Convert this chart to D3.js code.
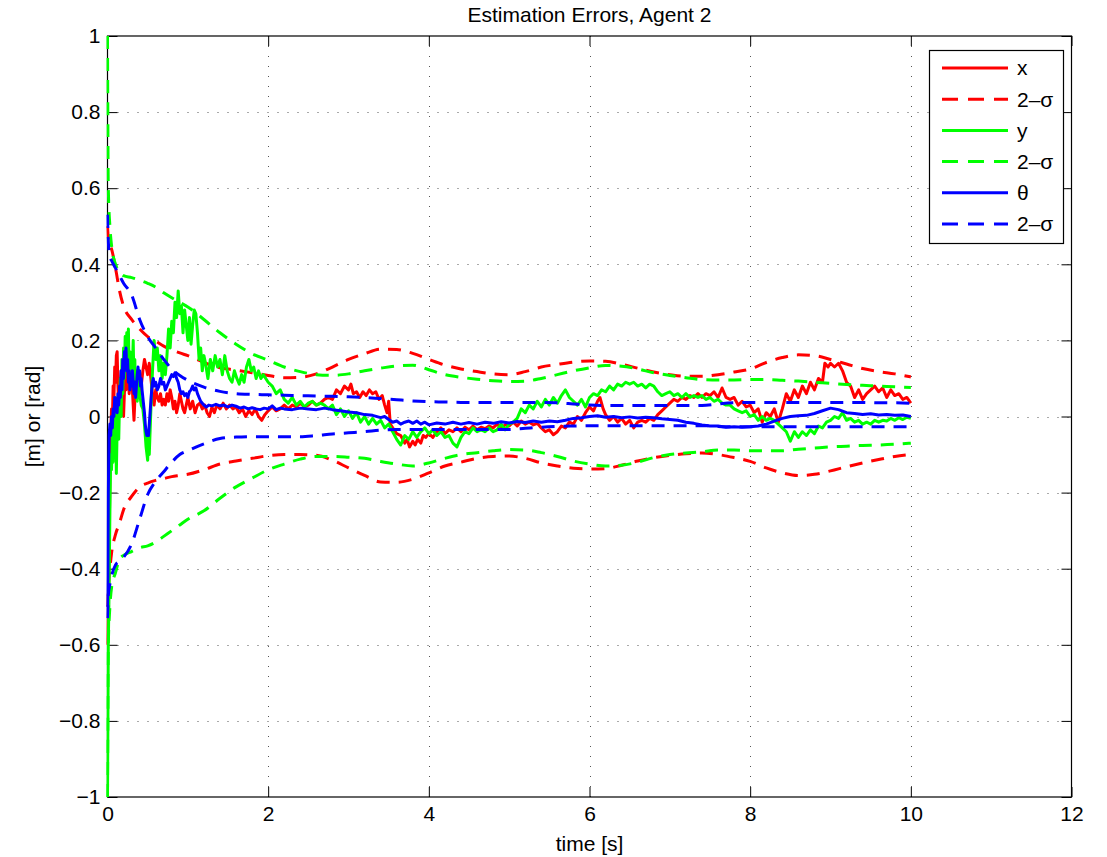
<!DOCTYPE html>
<html>
<head>
<meta charset="utf-8">
<script src="https://cdn.jsdelivr.net/npm/d3@7/dist/d3.min.js"></script>
<style>
  body { margin: 0; background: #fff; }
  svg { display: block; font-family: "Liberation Sans", Arial, Helvetica, sans-serif; }
</style>
</head>
<body>
<script>
// tick values
const xTickVals = [0, 2, 4, 6, 8, 10, 12]
const yTickVals = [-1, -0.8, -0.6, -0.4, -0.2, 0, 0.2, 0.4, 0.6, 0.8, 1]
const legendLabels = ['x', '2\u2013\u03c3', 'y', '2\u2013\u03c3', '\u03b8', '2\u2013\u03c3']

// time grid for the 2-sigma bounds
const sigmaT = [0, 0.01, 0.03, 0.05, 0.1, 0.15, 0.2, 0.3, 0.4, 0.5, 0.6, 0.7, 0.8, 0.9, 1.0,
  1.2, 1.4, 1.6, 1.8, 2.0, 2.2, 2.4, 2.6, 2.8, 3.0, 3.2, 3.4, 3.6, 3.8, 4.0,
  4.2, 4.4, 4.6, 4.8, 5.0, 5.2, 5.4, 5.6, 5.8, 6.0, 6.2, 6.4, 6.6, 6.8, 7.0,
  7.2, 7.4, 7.6, 7.8, 8.0, 8.2, 8.4, 8.6, 8.8, 9.0, 9.2, 9.4, 9.6, 9.8, 10.0]

const xSigUp = [0.5, 0.47, 0.45, 0.44, 0.39, 0.33, 0.29, 0.255, 0.23, 0.21, 0.198, 0.185, 0.175, 0.167, 0.16,
  0.142, 0.128, 0.122, 0.115, 0.108,  0.102, 0.103, 0.112, 0.13, 0.15,  0.165, 0.177, 0.176, 0.166, 0.15,
  0.135, 0.125, 0.118, 0.112, 0.11,  0.118, 0.13, 0.137, 0.143, 0.146,  0.145, 0.137, 0.127, 0.117, 0.11,
  0.106, 0.106, 0.11, 0.117, 0.125,  0.142, 0.155, 0.162, 0.16, 0.15,  0.138, 0.126, 0.118, 0.112, 0.104]
const xSigLo = [-0.5, -0.45, -0.4, -0.36, -0.31, -0.28, -0.245, -0.21, -0.185, -0.175, -0.168, -0.163, -0.158, -0.155, -0.152,
  -0.14, -0.125, -0.117, -0.11, -0.103,  -0.1, -0.1, -0.102, -0.115, -0.135,  -0.155, -0.172, -0.173, -0.165, -0.148,
  -0.13, -0.12, -0.11, -0.105, -0.104,  -0.11, -0.122, -0.13, -0.136, -0.138,  -0.137, -0.128, -0.117, -0.108, -0.102,
  -0.098, -0.096, -0.1, -0.108, -0.118,  -0.135, -0.148, -0.155, -0.152, -0.143,  -0.132, -0.122, -0.113, -0.105, -0.1]

const ySigUp = [1.0, 0.6, 0.5, 0.45, 0.4, 0.38, 0.37, 0.365, 0.358, 0.35, 0.34, 0.325, 0.312, 0.3, 0.288,
  0.255, 0.22, 0.19, 0.165, 0.148,  0.13, 0.118, 0.11, 0.108, 0.112,  0.12, 0.127, 0.133, 0.135, 0.123,
  0.11, 0.103, 0.098, 0.094, 0.092,  0.093, 0.1, 0.11, 0.12, 0.128,  0.134, 0.132, 0.125, 0.115, 0.108,
  0.102, 0.097, 0.096, 0.096, 0.097,  0.097, 0.095, 0.093, 0.09, 0.087,  0.084, 0.082, 0.08, 0.078, 0.076]
const ySigLo = [-1.0, -0.6, -0.5, -0.45, -0.41, -0.375, -0.365, -0.355, -0.345, -0.34, -0.33, -0.315, -0.3, -0.285, -0.27,
  -0.248, -0.215, -0.185, -0.162, -0.14,  -0.125, -0.112, -0.105, -0.105, -0.107,  -0.11, -0.118, -0.125, -0.13, -0.122,
  -0.11, -0.1, -0.095, -0.09, -0.087,  -0.088, -0.095, -0.105, -0.117, -0.125,  -0.13, -0.128, -0.12, -0.108, -0.1,
  -0.096, -0.093, -0.088, -0.088, -0.09,  -0.09, -0.09, -0.086, -0.083, -0.08,  -0.078, -0.076, -0.075, -0.073, -0.07]

const thSigUp = [0.53, 0.46, 0.42, 0.41, 0.39, 0.37, 0.35, 0.32, 0.255, 0.21, 0.18, 0.15, 0.125, 0.108, 0.095,
  0.077, 0.066, 0.06, 0.058, 0.057,  0.056, 0.055, 0.054, 0.053, 0.052,  0.05, 0.047, 0.044, 0.041, 0.039,
  0.038, 0.037, 0.037, 0.037, 0.037,  0.037, 0.037, 0.036, 0.033, 0.03,  0.029, 0.029, 0.029, 0.029, 0.029,
  0.029, 0.029, 0.033, 0.036, 0.037,  0.037, 0.037, 0.037, 0.037, 0.037,  0.037, 0.037, 0.036, 0.036, 0.035]
const thSigLo = [-0.53, -0.47, -0.44, -0.42, -0.39, -0.38, -0.37, -0.335, -0.27, -0.205, -0.17, -0.145, -0.12, -0.1, -0.09,
  -0.072, -0.058, -0.054, -0.053, -0.053,  -0.053, -0.053, -0.05, -0.046, -0.043,  -0.04, -0.036, -0.034, -0.034, -0.034,
  -0.034, -0.034, -0.034, -0.034, -0.034,  -0.031, -0.028, -0.026, -0.025, -0.024,  -0.024, -0.024, -0.024, -0.024, -0.024,
  -0.024, -0.024, -0.026, -0.027, -0.027,  -0.027, -0.027, -0.027, -0.027, -0.027,  -0.027, -0.027, -0.027, -0.027, -0.027]

// estimation errors, [time, value]
const xErr = [[0,-0.6],[0.01,-0.5],[0.02,-0.35],[0.03,-0.15],[0.04,-0.05],[0.05,0.02],[0.06,-0.02],[0.07,0.08],[0.08,0.05],[0.09,0.13],
  [0.1,0.09],[0.11,0.16],[0.12,0.17],[0.13,0.08],[0.14,0.03],[0.15,0.1],[0.16,0.06],[0.17,0.12],[0.18,0.02],[0.19,0.05],
  [0.2,0.0],[0.21,0.06],[0.22,0.1],[0.23,0.07],[0.24,0.12],[0.25,0.08],[0.26,0.11],[0.27,0.06],[0.28,0.09],[0.29,0.13],
  [0.3,0.15],[0.31,0.07],[0.32,0.03],[0.33,-0.01],[0.34,0.04],[0.35,0.08],[0.36,0.05],[0.37,0.09],[0.38,0.1],[0.4,0.06],
  [0.42,0.08],[0.44,0.12],[0.46,0.15],[0.48,0.13],[0.5,0.11],[0.52,0.14],[0.54,0.1],[0.56,0.06],[0.58,0.03],[0.6,0.07],
  [0.62,0.05],[0.64,0.04],[0.66,0.06],[0.68,0.03],[0.7,0.045],[0.72,0.03],[0.74,0.06],[0.76,0.04],[0.78,0.07],[0.8,0.05],
  [0.82,0.02],[0.84,0.04],[0.86,0.01],[0.88,0.03],[0.9,0.06],[0.92,0.04],[0.94,0.02],[0.96,0.01],[0.98,0.03],[1.0,0.05],
  [1.03,0.02],[1.06,0.04],[1.09,0.01],[1.12,0.03],[1.15,0.035],[1.18,0.02],[1.21,0.03],[1.24,0.01],[1.27,0.0],[1.3,0.025],
  [1.33,0.01],[1.36,0.03],[1.4,0.02],[1.44,0.035],[1.48,0.02],[1.52,0.03],[1.56,0.02],[1.6,0.025],[1.64,0.01],[1.68,0.02],
  [1.72,0.0],[1.76,0.015],[1.8,0.005],[1.84,0.02],[1.88,0.0],[1.92,-0.01],[1.96,0.005],[2.0,0.015],[2.05,0.025],[2.1,0.015],
  [2.15,0.02],[2.2,0.03],[2.25,0.02],[2.3,0.03],[2.35,0.025],[2.4,0.035],[2.45,0.025],[2.5,0.03],[2.55,0.04],[2.6,0.03],
  [2.65,0.035],[2.7,0.045],[2.75,0.05],[2.8,0.045],[2.85,0.07],[2.9,0.06],[2.95,0.08],[3.0,0.07],[3.03,0.085],[3.06,0.06],
  [3.1,0.065],[3.14,0.05],[3.18,0.065],[3.22,0.055],[3.26,0.07],[3.3,0.06],[3.34,0.065],[3.38,0.045],[3.42,0.055],[3.45,0.03],
  [3.48,0.01],[3.5,0.04],[3.52,-0.02],[3.55,-0.03],[3.6,-0.045],[3.65,-0.05],[3.7,-0.07],[3.73,-0.06],[3.76,-0.08],[3.8,-0.065],
  [3.83,-0.075],[3.86,-0.06],[3.9,-0.07],[3.93,-0.05],[3.96,-0.055],[4.0,-0.045],[4.05,-0.055],[4.1,-0.04],[4.15,-0.03],[4.2,-0.045],
  [4.25,-0.035],[4.3,-0.04],[4.35,-0.03],[4.4,-0.04],[4.45,-0.028],[4.5,-0.035],[4.55,-0.025],[4.6,-0.035],[4.65,-0.028],[4.7,-0.032],
  [4.75,-0.025],[4.8,-0.03],[4.85,-0.02],[4.9,-0.03],[4.95,-0.022],[5.0,-0.025],[5.05,-0.015],[5.1,-0.025],[5.15,-0.012],[5.2,-0.02],
  [5.25,-0.015],[5.3,-0.022],[5.35,-0.018],[5.4,-0.03],[5.45,-0.04],[5.5,-0.035],[5.55,-0.048],[5.6,-0.04],[5.65,-0.025],[5.7,-0.03],
  [5.75,-0.015],[5.8,-0.02],[5.85,0.0],[5.9,-0.01],[5.95,0.01],[6.0,0.025],[6.05,0.015],[6.1,0.04],[6.13,0.05],[6.17,0.02],
  [6.2,0.005],[6.25,-0.01],[6.3,0.0],[6.35,-0.015],[6.4,-0.005],[6.45,-0.02],[6.5,-0.01],[6.55,-0.03],[6.6,-0.015],[6.65,-0.01],
  [6.7,-0.015],[6.75,-0.005],[6.8,-0.01],[6.85,0.005],[6.9,0.015],[6.95,0.025],[7.0,0.035],[7.05,0.045],[7.1,0.04],[7.15,0.05],
  [7.2,0.045],[7.25,0.055],[7.3,0.05],[7.35,0.06],[7.4,0.05],[7.45,0.06],[7.5,0.055],[7.55,0.065],[7.6,0.05],[7.65,0.075],
  [7.7,0.05],[7.75,0.045],[7.8,0.05],[7.85,0.03],[7.9,0.04],[7.95,0.025],[8.0,0.03],[8.05,0.01],[8.1,0.02],[8.15,-0.015],
  [8.2,0.01],[8.25,0.0],[8.3,0.02],[8.35,-0.015],[8.4,0.02],[8.45,0.06],[8.5,0.04],[8.55,0.07],[8.6,0.05],[8.65,0.08],
  [8.7,0.06],[8.75,0.09],[8.8,0.07],[8.85,0.1],[8.9,0.09],[8.93,0.14],[8.97,0.13],[9.0,0.14],[9.05,0.13],[9.1,0.14],
  [9.15,0.12],[9.2,0.09],[9.25,0.08],[9.3,0.05],[9.35,0.07],[9.4,0.045],[9.45,0.06],[9.5,0.07],[9.55,0.08],[9.6,0.065],
  [9.65,0.075],[9.7,0.05],[9.75,0.07],[9.8,0.055],[9.85,0.06],[9.9,0.045],[9.95,0.05],[10.0,0.035]]

const yErr = [[0,-1.0],[0.005,-0.8],[0.01,-0.6],[0.02,-0.45],[0.03,-0.25],[0.04,-0.1],[0.05,-0.14],[0.06,-0.05],[0.07,-0.12],[0.08,0.02],
  [0.09,-0.08],[0.1,0.05],[0.11,-0.15],[0.12,-0.03],[0.13,0.03],[0.14,-0.06],[0.15,0.04],[0.16,0.1],[0.17,0.0],[0.18,0.15],
  [0.19,0.06],[0.2,0.18],[0.21,0.1],[0.22,0.21],[0.23,0.12],[0.24,0.22],[0.25,0.14],[0.26,0.23],[0.27,0.11],[0.28,0.17],
  [0.29,0.1],[0.3,0.16],[0.31,0.13],[0.32,0.2],[0.33,0.08],[0.34,0.15],[0.35,0.05],[0.36,0.12],[0.37,0.04],[0.38,0.1],
  [0.4,0.06],[0.42,0.03],[0.44,0.02],[0.46,-0.02],[0.48,-0.08],[0.5,-0.115],[0.51,-0.05],[0.52,-0.1],[0.54,0.02],[0.56,0.12],
  [0.58,0.2],[0.6,0.15],[0.62,0.18],[0.64,0.12],[0.66,0.16],[0.68,0.1],[0.7,0.14],[0.72,0.11],[0.74,0.16],[0.76,0.23],
  [0.78,0.18],[0.8,0.25],[0.82,0.22],[0.84,0.3],[0.86,0.26],[0.88,0.33],[0.9,0.27],[0.92,0.29],[0.94,0.22],[0.96,0.28],
  [0.98,0.24],[1.0,0.2],[1.02,0.26],[1.04,0.19],[1.06,0.24],[1.08,0.28],[1.1,0.27],[1.12,0.22],[1.14,0.15],[1.16,0.18],
  [1.18,0.12],[1.2,0.16],[1.22,0.14],[1.25,0.1],[1.28,0.15],[1.31,0.12],[1.34,0.16],[1.37,0.13],[1.4,0.15],[1.43,0.11],
  [1.46,0.16],[1.49,0.12],[1.52,0.1],[1.55,0.09],[1.58,0.12],[1.61,0.1],[1.64,0.085],[1.67,0.11],[1.7,0.09],[1.73,0.13],
  [1.76,0.15],[1.79,0.12],[1.82,0.13],[1.85,0.1],[1.88,0.12],[1.91,0.1],[1.94,0.11],[1.97,0.1],[2.0,0.09],[2.05,0.08],
  [2.1,0.06],[2.15,0.07],[2.2,0.045],[2.25,0.035],[2.3,0.05],[2.35,0.03],[2.4,0.04],[2.45,0.025],[2.5,0.035],[2.55,0.04],
  [2.6,0.03],[2.65,0.035],[2.7,0.03],[2.75,0.02],[2.8,0.03],[2.85,0.005],[2.9,0.02],[2.95,0.0],[3.0,0.015],[3.05,-0.005],
  [3.1,0.01],[3.15,-0.015],[3.2,0.0],[3.25,-0.02],[3.3,-0.005],[3.35,-0.02],[3.4,-0.01],[3.45,-0.03],[3.5,-0.02],[3.55,-0.04],
  [3.6,-0.06],[3.65,-0.075],[3.7,-0.05],[3.75,-0.06],[3.8,-0.04],[3.85,-0.055],[3.9,-0.04],[3.95,-0.03],[4.0,-0.045],[4.05,-0.035],
  [4.1,-0.05],[4.15,-0.04],[4.2,-0.055],[4.25,-0.05],[4.3,-0.07],[4.35,-0.08],[4.4,-0.055],[4.45,-0.04],[4.5,-0.045],[4.55,-0.03],
  [4.6,-0.04],[4.65,-0.035],[4.7,-0.04],[4.75,-0.03],[4.8,-0.04],[4.85,-0.035],[4.9,-0.02],[4.95,-0.035],[5.0,-0.02],[5.05,-0.015],
  [5.1,-0.005],[5.15,0.02],[5.2,0.01],[5.25,0.03],[5.3,0.02],[5.35,0.04],[5.4,0.025],[5.45,0.045],[5.5,0.03],[5.55,0.05],
  [5.6,0.035],[5.65,0.055],[5.7,0.07],[5.75,0.05],[5.8,0.04],[5.85,0.03],[5.9,0.045],[5.95,0.025],[6.0,0.05],[6.05,0.06],
  [6.1,0.055],[6.15,0.07],[6.2,0.065],[6.25,0.08],[6.3,0.07],[6.35,0.085],[6.4,0.08],[6.45,0.09],[6.5,0.085],[6.55,0.09],
  [6.6,0.08],[6.65,0.085],[6.7,0.075],[6.75,0.085],[6.8,0.08],[6.85,0.065],[6.9,0.055],[6.95,0.06],[7.0,0.065],[7.05,0.055],
  [7.1,0.06],[7.15,0.05],[7.2,0.06],[7.25,0.05],[7.3,0.055],[7.35,0.05],[7.4,0.055],[7.45,0.045],[7.5,0.05],[7.55,0.04],
  [7.6,0.045],[7.65,0.035],[7.7,0.03],[7.75,0.03],[7.8,0.02],[7.85,0.015],[7.9,0.01],[7.95,0.015],[8.0,0.0],[8.05,0.005],
  [8.1,-0.01],[8.15,0.0],[8.2,-0.01],[8.25,-0.005],[8.3,-0.01],[8.35,-0.02],[8.4,-0.03],[8.45,-0.04],[8.5,-0.065],[8.55,-0.04],
  [8.6,-0.055],[8.65,-0.04],[8.7,-0.05],[8.75,-0.035],[8.8,-0.045],[8.85,-0.025],[8.9,-0.03],[8.95,-0.015],[9.0,-0.01],[9.05,0.0],
  [9.1,-0.005],[9.15,0.01],[9.2,-0.01],[9.25,-0.005],[9.3,-0.015],[9.35,-0.01],[9.4,-0.02],[9.45,-0.015],[9.5,-0.02],[9.55,-0.01],
  [9.6,-0.015],[9.65,-0.01],[9.7,-0.012],[9.75,-0.005],[9.8,-0.01],[9.85,-0.003],[9.9,-0.008],[9.95,-0.002],[10.0,-0.005]]

const thErr = [[0,-0.5],[0.005,-0.42],[0.01,-0.2],[0.02,-0.05],[0.03,-0.02],[0.04,-0.05],[0.05,0.0],[0.06,-0.03],[0.07,0.02],[0.08,0.0],
  [0.09,0.05],[0.1,0.02],[0.11,0.04],[0.12,0.01],[0.13,0.06],[0.14,0.03],[0.15,0.08],[0.16,0.05],[0.17,0.12],[0.18,0.07],
  [0.19,0.15],[0.2,0.1],[0.21,0.17],[0.22,0.13],[0.23,0.18],[0.24,0.12],[0.25,0.15],[0.26,0.09],[0.27,0.12],[0.28,0.07],
  [0.29,0.1],[0.3,0.08],[0.31,0.12],[0.32,0.09],[0.33,0.06],[0.34,0.09],[0.35,0.05],[0.36,0.08],[0.37,0.11],[0.38,0.13],
  [0.39,0.1],[0.4,0.12],[0.41,0.08],[0.42,0.1],[0.43,0.07],[0.44,0.05],[0.45,0.03],[0.46,0.01],[0.47,-0.02],[0.48,-0.04],
  [0.49,-0.05],[0.5,-0.04],[0.51,-0.05],[0.52,-0.02],[0.53,0.01],[0.54,0.04],[0.55,0.07],[0.56,0.09],[0.57,0.1],[0.58,0.08],
  [0.6,0.09],[0.62,0.07],[0.64,0.08],[0.66,0.1],[0.68,0.085],[0.7,0.09],[0.72,0.07],[0.74,0.08],[0.76,0.09],[0.78,0.1],
  [0.8,0.11],[0.82,0.105],[0.84,0.115],[0.86,0.1],[0.88,0.09],[0.9,0.07],[0.92,0.06],[0.94,0.065],[0.96,0.055],[0.98,0.06],
  [1.0,0.05],[1.02,0.065],[1.04,0.07],[1.06,0.08],[1.08,0.07],[1.1,0.075],[1.12,0.06],[1.14,0.05],[1.16,0.04],[1.18,0.035],
  [1.2,0.03],[1.23,0.025],[1.26,0.03],[1.3,0.028],[1.35,0.032],[1.4,0.028],[1.45,0.03],[1.5,0.025],[1.55,0.03],[1.6,0.027],
  [1.65,0.022],[1.7,0.025],[1.75,0.02],[1.8,0.023],[1.85,0.02],[1.9,0.018],[1.95,0.022],[2.0,0.02],[2.05,0.028],[2.1,0.018],
  [2.15,0.022],[2.2,0.02],[2.3,0.018],[2.4,0.022],[2.5,0.02],[2.6,0.018],[2.7,0.022],[2.8,0.018],[2.9,0.015],[3.0,0.012],
  [3.1,0.01],[3.2,0.005],[3.3,0.003],[3.4,-0.003],[3.45,0.0],[3.5,-0.008],[3.55,-0.015],[3.6,-0.012],[3.65,-0.02],[3.7,-0.015],
  [3.75,-0.012],[3.8,-0.018],[3.85,-0.012],[3.9,-0.02],[3.95,-0.015],[4.0,-0.022],[4.1,-0.017],[4.2,-0.02],[4.3,-0.015],[4.4,-0.02],
  [4.5,-0.016],[4.6,-0.02],[4.7,-0.015],[4.8,-0.018],[4.9,-0.014],[5.0,-0.017],[5.1,-0.013],[5.2,-0.016],[5.3,-0.012],[5.4,-0.015],
  [5.5,-0.012],[5.6,-0.014],[5.7,-0.01],[5.8,-0.005],[5.9,-0.003],[6.0,0.0],[6.1,0.002],[6.2,-0.002],[6.3,0.0],[6.4,-0.003],
  [6.5,-0.001],[6.6,-0.004],[6.7,-0.002],[6.8,-0.003],[6.9,-0.006],[7.0,-0.008],[7.1,-0.01],[7.2,-0.015],[7.3,-0.018],[7.4,-0.022],
  [7.5,-0.025],[7.6,-0.025],[7.7,-0.028],[7.8,-0.027],[7.9,-0.028],[8.0,-0.027],[8.1,-0.025],[8.2,-0.02],[8.3,-0.012],[8.4,-0.005],
  [8.5,0.0],[8.6,0.002],[8.7,0.003],[8.8,0.008],[8.9,0.015],[9.0,0.022],[9.1,0.018],[9.2,0.01],[9.3,0.008],[9.4,0.005],
  [9.5,0.007],[9.6,0.004],[9.7,0.005],[9.8,0.003],[9.9,0.004],[10.0,0.0]]

const config = {
  width: 1107,
  height: 857,
  left: 107.5,
  right: 1071.5,
  top: 36,
  bottom: 797,
  fontSize: 21,
  lineWidth: 3,
  dash: '13,9'
}

const svg = d3.select('body').append('svg')
  .attr('width', config.width)
  .attr('height', config.height)

const x = d3.scaleLinear().domain([0, 12]).range([config.left, config.right])
const y = d3.scaleLinear().domain([-1, 1]).range([config.bottom, config.top])

const fmt = v => (v < 0 ? '\u2212' : '') + d3.format('~g')(Math.abs(v))

// dotted grid
const grid = svg.append('g').attr('stroke', '#555').attr('stroke-width', 1).attr('stroke-dasharray', '1,9')
grid.selectAll('.gx').data(xTickVals.slice(1, -1)).enter().append('line')
  .attr('x1', d => Math.round(x(d)) + 0.5).attr('x2', d => Math.round(x(d)) + 0.5)
  .attr('y1', config.bottom).attr('y2', config.top)
grid.selectAll('.gy').data(yTickVals.slice(1, -1)).enter().append('line')
  .attr('y1', d => Math.round(y(d)) + 0.5).attr('y2', d => Math.round(y(d)) + 0.5)
  .attr('x1', config.left).attr('x2', config.right)

// axes, ticks pointing inward like matlab
const xAxis = svg.append('g').attr('transform', `translate(0,${config.bottom})`)
  .call(d3.axisBottom(x).tickValues(xTickVals).tickFormat(fmt).tickSizeInner(-10).tickSizeOuter(0).tickPadding(9))
const xTop = svg.append('g').attr('transform', `translate(0,${config.top})`)
  .call(d3.axisTop(x).tickValues(xTickVals).tickFormat('').tickSizeInner(-10).tickSizeOuter(0))
const yAxis = svg.append('g').attr('transform', `translate(${config.left},0)`)
  .call(d3.axisLeft(y).tickValues(yTickVals).tickFormat(fmt).tickSizeInner(-10).tickSizeOuter(0).tickPadding(7))
const yRight = svg.append('g').attr('transform', `translate(${config.right},0)`)
  .call(d3.axisRight(y).tickValues(yTickVals).tickFormat('').tickSizeInner(-10).tickSizeOuter(0))

;[xAxis, xTop, yAxis, yRight].forEach(g => {
  g.select('.domain').remove()
  g.selectAll('line').attr('stroke', '#000')
  g.selectAll('text').attr('font-size', config.fontSize).attr('fill', '#000')
    .attr('font-family', '"Liberation Sans", Arial, sans-serif')
})

svg.append('rect')
  .attr('x', config.left).attr('y', config.top)
  .attr('width', config.right - config.left).attr('height', config.bottom - config.top)
  .attr('fill', 'none').attr('stroke', '#000').attr('stroke-width', 1.2)

// series
svg.append('clipPath').attr('id', 'clip').append('rect')
  .attr('x', config.left - 1).attr('y', config.top)
  .attr('width', config.right - config.left + 1).attr('height', config.bottom - config.top)

const plot = svg.append('g').attr('clip-path', 'url(#clip)')
const line = d3.line().x(d => x(d[0])).y(d => y(d[1]))
const sig = arr => sigmaT.map((t, i) => [t, arr[i]])

const series = [
  { data: xErr, color: '#ff0000', dashed: false },
  { data: sig(xSigUp), color: '#ff0000', dashed: true },
  { data: sig(xSigLo), color: '#ff0000', dashed: true },
  { data: yErr, color: '#00ff00', dashed: false },
  { data: sig(ySigUp), color: '#00ff00', dashed: true },
  { data: sig(ySigLo), color: '#00ff00', dashed: true },
  { data: thErr, color: '#0000ff', dashed: false },
  { data: sig(thSigUp), color: '#0000ff', dashed: true },
  { data: sig(thSigLo), color: '#0000ff', dashed: true }
]

plot.selectAll('.series').data(series).enter().append('path')
  .attr('d', d => d.dashed ? line.curve(d3.curveMonotoneX)(d.data) : line.curve(d3.curveLinear)(d.data))
  .attr('fill', 'none')
  .attr('stroke', d => d.color)
  .attr('stroke-width', config.lineWidth)
  .attr('stroke-linejoin', 'round')
  .attr('stroke-dasharray', d => d.dashed ? config.dash : null)

// title and axis labels
svg.append('text')
  .attr('x', (config.left + config.right) / 2).attr('y', 22)
  .attr('text-anchor', 'middle').attr('font-size', config.fontSize)
  .text('Estimation Errors, Agent 2')
svg.append('text')
  .attr('x', (config.left + config.right) / 2).attr('y', 851)
  .attr('text-anchor', 'middle').attr('font-size', config.fontSize)
  .text('time [s]')
svg.append('text')
  .attr('transform', `translate(40,${(config.top + config.bottom) / 2}) rotate(-90)`)
  .attr('text-anchor', 'middle').attr('font-size', config.fontSize)
  .text('[m] or [rad]')

// legend
const legendColors = ['#ff0000', '#ff0000', '#00ff00', '#00ff00', '#0000ff', '#0000ff']
const legend = svg.append('g')
legend.append('rect')
  .attr('x', 929.5).attr('y', 50.5).attr('width', 134).attr('height', 193)
  .attr('fill', '#fff').attr('stroke', '#000').attr('stroke-width', 1.2)
const rows = legend.selectAll('.row').data(legendLabels).enter().append('g')
  .attr('transform', (d, i) => `translate(0,${68 + i * 31.2})`)
rows.append('line')
  .attr('x1', 942).attr('x2', 1008).attr('y1', 0).attr('y2', 0)
  .attr('stroke', (d, i) => legendColors[i])
  .attr('stroke-width', config.lineWidth)
  .attr('stroke-dasharray', (d, i) => i % 2 ? '16,10' : null)
rows.append('text')
  .attr('x', 1017).attr('y', 0).attr('dy', '0.35em')
  .attr('font-size', config.fontSize)
  .text(d => d)
</script>
</body>
</html>
